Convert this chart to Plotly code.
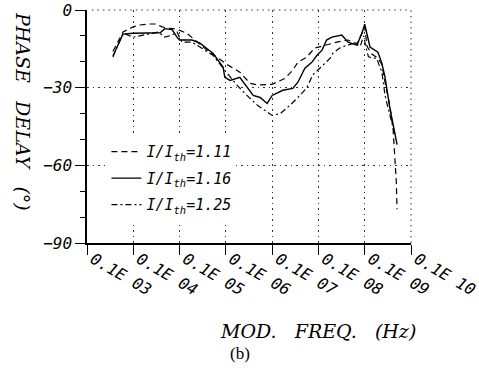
import plotly.graph_objects as go

# ---- data (frequency in Hz, phase delay in degrees) ----
freq_111 = [363, 600, 1000, 1380, 2100, 2950, 4200, 5600, 8800, 1.44e4, 2.15e4, 3.2e4, 3.9e4,
            7.4e4, 1.05e5, 2.0e5, 3.33e5, 4.9e5, 1.0e6, 1.9e6, 2.7e6, 3.6e6, 5.6e6, 8.3e6,
            1.5e7, 2.5e7, 4.35e7, 6.8e7, 8.7e7, 1.0e8, 1.12e8, 1.43e8, 1.93e8, 2.35e8, 2.75e8,
            3.5e8, 4.1e8, 4.5e8, 4.8e8, 5.0e8]
phase_111 = [-16.0, -8.5, -6.5, -5.8, -5.4, -5.4, -6.5, -7.0, -7.4, -9.0, -11.6, -14.3, -15.5,
             -19.0, -21.0, -24.0, -28.3, -29.0, -28.7, -26.4, -23.5, -20.2, -18.2, -14.7,
             -13.5, -12.4, -11.6, -13.0, -9.0, -6.5, -14.0, -17.0, -18.6, -21.0, -28.0,
             -37.0, -46.0, -56.0, -66.0, -77.0]

freq_116 = [363, 600, 1000, 2300, 3800, 4800, 6900, 8800, 1.0e4, 1.86e4, 2.75e4, 5.25e4, 8.7e4,
            9.5e4, 1.23e5, 2.0e5, 3.9e5, 5.5e5, 7.8e5, 1.0e6, 1.7e6, 2.8e6, 3.6e6, 5.1e6, 7.2e6,
            9.3e6, 1.2e7, 1.5e7, 1.95e7, 3.2e7, 3.7e7, 4.35e7, 6.8e7, 8.7e7, 1.0e8, 1.3e8,
            1.93e8, 2.35e8, 2.75e8, 3.5e8, 4.3e8, 5.0e8]
phase_116 = [-17.8, -9.3, -9.0, -9.0, -8.8, -7.2, -7.6, -10.5, -11.6, -11.6, -12.8, -16.7, -22.0,
             -26.0, -27.2, -26.0, -33.0, -33.8, -36.1, -33.0, -31.0, -30.3, -27.9, -22.5, -20.2,
             -17.5, -15.5, -11.6, -10.5, -9.7, -10.9, -12.4, -13.6, -9.0, -5.5, -14.3,
             -16.3, -20.6, -26.0, -38.0, -46.0, -52.0]

freq_125 = [363, 600, 1000, 1380, 2300, 3500, 4800, 6900, 8800, 1.12e4, 1.86e4, 2.75e4, 5.25e4,
            9.5e4, 1.74e5, 2.85e5, 4.9e5, 1.0e6, 1.5e6, 2.4e6, 4.0e6, 5.6e6, 7.6e6, 1.07e7,
            1.8e7, 2.05e7, 2.9e7, 4.1e7, 6.1e7, 8.0e7, 9.5e7, 1.05e8, 1.2e8, 1.43e8, 1.8e8,
            2.35e8, 2.75e8, 3.5e8, 4.5e8]
phase_125 = [-18.2, -9.0, -10.5, -10.0, -9.3, -8.5, -10.5, -9.7, -8.5, -12.4, -12.4, -14.3, -17.5,
             -23.3, -29.0, -33.0, -36.9, -40.7, -40.0, -36.9, -33.0, -30.0, -25.0, -22.5,
             -18.6, -16.7, -14.7, -13.6, -12.8, -14.0, -10.0, -14.0, -18.0, -18.6, -18.6,
             -24.0, -33.0, -40.7, -48.0]

x_tickvals = [1e2, 1e3, 1e4, 1e5, 1e6, 1e7, 1e8, 1e9]
x_ticktext = ["0.1E 03", "0.1E 04", "0.1E 05", "0.1E 06", "0.1E 07", "0.1E 08", "0.1E 09", "0.1E 10"]
y_tickvals = [0, -30, -60, -90]
y_ticktext = ["0", "\u221230", "\u221260", "\u221290"]

series = [
    ("1.11", freq_111, phase_111, "6px,4px", 1.2),
    ("1.16", freq_116, phase_116, "solid", 1.4),
    ("1.25", freq_125, phase_125, "6px,3px,2px,3px", 1.2),
]

MONO = "DejaVu Sans Mono"
SERIF = "DejaVu Serif"

fig = go.Figure()
for i, (lab, fx, fy, dash, w) in enumerate(series):
    fig.add_trace(go.Scatter(
        x=fx, y=fy, mode="lines",
        line=dict(color="black", width=w, dash=dash),
        name="<i>I/I</i><sub><i>th</i></sub><i>=" + lab + "</i>",
        legendgroup="g" + str(i),
    ))

grid_dash = "1.5px,4px"
fig.update_layout(
    width=479, height=372,
    margin=dict(l=87, r=68, t=10, b=129, autoexpand=False),
    paper_bgcolor="white", plot_bgcolor="white",
    showlegend=True,
    legend=dict(
        x=0.06, y=0.462, xanchor="left", yanchor="top",
        bgcolor="white", borderwidth=0,
        font=dict(family=MONO, size=15, color="black"),
        traceorder="grouped", tracegroupgap=4,
        itemwidth=30,
    ),
    xaxis=dict(
        type="log", range=[2, 9], automargin=False,
        tickvals=x_tickvals, ticktext=x_ticktext, tickangle=30,
        tickfont=dict(family=MONO, size=16, color="black", style="italic"),
        ticks="outside", ticklen=10, tickwidth=1.2, tickcolor="black",
        ticklabelshift=6, ticklabelstandoff=-11, ticklabeloverflow="allow",
        showline=True, linecolor="black", linewidth=2,
        showgrid=True, gridcolor="#333", gridwidth=1, griddash=grid_dash,
        zeroline=False,
    ),
    yaxis=dict(
        range=[-90, 0], automargin=False,
        tickvals=y_tickvals, ticktext=y_ticktext,
        tickfont=dict(family=MONO, size=16, color="black", style="italic"),
        ticks="outside", ticklen=10, tickwidth=1.2, tickcolor="black",
        minor=dict(tickvals=[-10, -20, -40, -50, -70, -80], ticks="outside", ticklen=5,
                   tickwidth=1, tickcolor="black", showgrid=False),
        showline=True, linecolor="black", linewidth=1.5,
        showgrid=True, gridcolor="#333", gridwidth=1, griddash=grid_dash,
        zeroline=False,
    ),
    shapes=[
        dict(type="line", xref="paper", yref="paper", x0=0.015, x1=1, y0=1, y1=1,
             line=dict(color="#333", width=1, dash=grid_dash)),
        dict(type="line", xref="paper", yref="paper", x0=1, x1=1, y0=0, y1=1,
             line=dict(color="#333", width=1, dash=grid_dash)),
    ],
    annotations=[
        dict(text="PHASE   DELAY   (\u00b0)", textangle=90, xref="paper", yref="paper",
             x=(23 - 87) / 324, y=(243 - 111) / 233, xanchor="center", yanchor="middle",
             showarrow=False, font=dict(family=SERIF, size=19, color="black", style="italic")),
        dict(text="MOD.   FREQ.   (Hz)", xref="paper", yref="paper",
             x=(318 - 87) / 324, y=(243 - 331) / 233, xanchor="center", yanchor="middle",
             showarrow=False, font=dict(family=SERIF, size=19, color="black", style="italic")),
        dict(text="(b)", xref="paper", yref="paper",
             x=(240 - 87) / 324, y=(243 - 353) / 233, xanchor="center", yanchor="middle",
             showarrow=False, font=dict(family="Liberation Serif", size=17, color="black")),
    ],
)

fig.write_html("out.html")
